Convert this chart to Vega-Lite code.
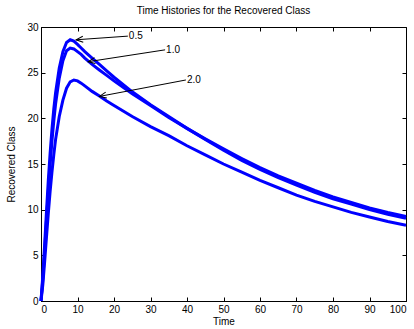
{
  "$schema": "https://vega.github.io/schema/vega-lite/v6.json",
  "autosize": "none",
  "width": 365,
  "height": 274,
  "padding": {"left": 41, "top": 27, "right": 8, "bottom": 28},
  "background": "white",
  "config": {
    "font": "Liberation Sans",
    "view": {"stroke": "black", "strokeWidth": 1},
    "axis": {"grid": false, "domainColor": "black", "tickColor": "black", "labelColor": "black", "titleColor": "black", "labelFontSize": 10, "titleFontSize": 10, "titleFontWeight": "normal", "tickSize": -4, "labelPadding": 7}
  },
  "title": {"text": "Time Histories for the Recovered Class", "fontSize": 10, "fontWeight": "normal", "color": "black", "offset": 6},
  "datasets": {
    "curves": [
      {"param": "0.5", "t": 0, "r": 0}, {"param": "0.5", "t": 0.5, "r": 2.8}, {"param": "0.5", "t": 1, "r": 6.2}, {"param": "0.5", "t": 1.5, "r": 9.8}, {"param": "0.5", "t": 2, "r": 13.2}, {"param": "0.5", "t": 2.5, "r": 16.2}, {"param": "0.5", "t": 3, "r": 18.8}, {"param": "0.5", "t": 3.5, "r": 21}, {"param": "0.5", "t": 4, "r": 22.8}, {"param": "0.5", "t": 5, "r": 25.5}, {"param": "0.5", "t": 6, "r": 27.3}, {"param": "0.5", "t": 7, "r": 28.3}, {"param": "0.5", "t": 8, "r": 28.6}, {"param": "0.5", "t": 9, "r": 28.45}, {"param": "0.5", "t": 10, "r": 28.1}, {"param": "0.5", "t": 11, "r": 27.7}, {"param": "0.5", "t": 12, "r": 27.3}, {"param": "0.5", "t": 14, "r": 26.6}, {"param": "0.5", "t": 16, "r": 25.9}, {"param": "0.5", "t": 18, "r": 25.2}, {"param": "0.5", "t": 20, "r": 24.5}, {"param": "0.5", "t": 25, "r": 22.9}, {"param": "0.5", "t": 30, "r": 21.5}, {"param": "0.5", "t": 35, "r": 20.2}, {"param": "0.5", "t": 40, "r": 18.9}, {"param": "0.5", "t": 45, "r": 17.7}, {"param": "0.5", "t": 50, "r": 16.5}, {"param": "0.5", "t": 55, "r": 15.4}, {"param": "0.5", "t": 60, "r": 14.4}, {"param": "0.5", "t": 65, "r": 13.5}, {"param": "0.5", "t": 70, "r": 12.7}, {"param": "0.5", "t": 75, "r": 11.9}, {"param": "0.5", "t": 80, "r": 11.2}, {"param": "0.5", "t": 85, "r": 10.6}, {"param": "0.5", "t": 90, "r": 10.0}, {"param": "0.5", "t": 95, "r": 9.5}, {"param": "0.5", "t": 100, "r": 9.05},
      {"param": "1.0", "t": 0, "r": 0}, {"param": "1.0", "t": 0.5, "r": 2.4}, {"param": "1.0", "t": 1, "r": 5.5}, {"param": "1.0", "t": 1.5, "r": 8.8}, {"param": "1.0", "t": 2, "r": 12}, {"param": "1.0", "t": 2.5, "r": 14.9}, {"param": "1.0", "t": 3, "r": 17.5}, {"param": "1.0", "t": 3.5, "r": 19.7}, {"param": "1.0", "t": 4, "r": 21.6}, {"param": "1.0", "t": 5, "r": 24.4}, {"param": "1.0", "t": 6, "r": 26.3}, {"param": "1.0", "t": 7, "r": 27.4}, {"param": "1.0", "t": 8, "r": 27.7}, {"param": "1.0", "t": 9, "r": 27.6}, {"param": "1.0", "t": 10, "r": 27.3}, {"param": "1.0", "t": 11, "r": 27.0}, {"param": "1.0", "t": 12, "r": 26.6}, {"param": "1.0", "t": 14, "r": 25.9}, {"param": "1.0", "t": 16, "r": 25.3}, {"param": "1.0", "t": 18, "r": 24.7}, {"param": "1.0", "t": 20, "r": 24.1}, {"param": "1.0", "t": 25, "r": 22.7}, {"param": "1.0", "t": 30, "r": 21.4}, {"param": "1.0", "t": 35, "r": 20.1}, {"param": "1.0", "t": 40, "r": 18.9}, {"param": "1.0", "t": 45, "r": 17.75}, {"param": "1.0", "t": 50, "r": 16.65}, {"param": "1.0", "t": 55, "r": 15.6}, {"param": "1.0", "t": 60, "r": 14.6}, {"param": "1.0", "t": 65, "r": 13.7}, {"param": "1.0", "t": 70, "r": 12.9}, {"param": "1.0", "t": 75, "r": 12.1}, {"param": "1.0", "t": 80, "r": 11.4}, {"param": "1.0", "t": 85, "r": 10.8}, {"param": "1.0", "t": 90, "r": 10.2}, {"param": "1.0", "t": 95, "r": 9.7}, {"param": "1.0", "t": 100, "r": 9.25},
      {"param": "2.0", "t": 0, "r": 0}, {"param": "2.0", "t": 0.5, "r": 1.8}, {"param": "2.0", "t": 1, "r": 4.3}, {"param": "2.0", "t": 1.5, "r": 7}, {"param": "2.0", "t": 2, "r": 9.6}, {"param": "2.0", "t": 2.5, "r": 12}, {"param": "2.0", "t": 3, "r": 14.1}, {"param": "2.0", "t": 3.5, "r": 16}, {"param": "2.0", "t": 4, "r": 17.7}, {"param": "2.0", "t": 5, "r": 20.2}, {"param": "2.0", "t": 6, "r": 22.0}, {"param": "2.0", "t": 7, "r": 23.3}, {"param": "2.0", "t": 8, "r": 24.0}, {"param": "2.0", "t": 9, "r": 24.2}, {"param": "2.0", "t": 10, "r": 24.1}, {"param": "2.0", "t": 11, "r": 23.85}, {"param": "2.0", "t": 12, "r": 23.55}, {"param": "2.0", "t": 14, "r": 22.95}, {"param": "2.0", "t": 16, "r": 22.45}, {"param": "2.0", "t": 18, "r": 21.9}, {"param": "2.0", "t": 20, "r": 21.4}, {"param": "2.0", "t": 25, "r": 20.2}, {"param": "2.0", "t": 30, "r": 19.1}, {"param": "2.0", "t": 35, "r": 18.1}, {"param": "2.0", "t": 40, "r": 17.0}, {"param": "2.0", "t": 45, "r": 16.0}, {"param": "2.0", "t": 50, "r": 15.0}, {"param": "2.0", "t": 55, "r": 14.1}, {"param": "2.0", "t": 60, "r": 13.2}, {"param": "2.0", "t": 65, "r": 12.4}, {"param": "2.0", "t": 70, "r": 11.6}, {"param": "2.0", "t": 75, "r": 10.9}, {"param": "2.0", "t": 80, "r": 10.3}, {"param": "2.0", "t": 85, "r": 9.7}, {"param": "2.0", "t": 90, "r": 9.2}, {"param": "2.0", "t": 95, "r": 8.7}, {"param": "2.0", "t": 100, "r": 8.3}
    ],
    "arrows": [
      {"label": "0.5", "tx": 23.8, "ty": 29.0, "hx": 9.6, "hy": 28.6},
      {"label": "1.0", "tx": 34.0, "ty": 27.5, "hx": 12.9, "hy": 26.2},
      {"label": "2.0", "tx": 39.7, "ty": 24.2, "hx": 16.0, "hy": 22.4}
    ]
  },
  "layer": [
    {
      "data": {"name": "curves"},
      "mark": {"type": "line", "color": "#0000ff", "strokeWidth": 3},
      "encoding": {
        "x": {"field": "t", "type": "quantitative", "scale": {"domain": [0, 100], "nice": false}, "axis": {"title": "Time", "values": [0,10,20,30,40,50,60,70,80,90,100], "titlePadding": 2}},
        "y": {"field": "r", "type": "quantitative", "scale": {"domain": [0, 30], "nice": false}, "axis": {"title": "Recovered Class", "values": [0,5,10,15,20,25,30], "titlePadding": 10}},
        "detail": {"field": "param"}
      }
    },
    {
      "data": {"name": "arrows"},
      "mark": {"type": "rule", "color": "black", "strokeWidth": 1},
      "encoding": {
        "x": {"field": "tx", "type": "quantitative", "axis": {"orient": "top", "labels": false, "title": null, "domain": false, "values": [0,10,20,30,40,50,60,70,80,90,100]}},
        "y": {"field": "ty", "type": "quantitative", "axis": {"orient": "right", "labels": false, "title": null, "domain": false, "values": [0,5,10,15,20,25,30]}},
        "x2": {"field": "hx"},
        "y2": {"field": "hy"}
      }
    },
    {
      "data": {"name": "arrows"},
      "transform": [{"filter": "datum.label == '0.5'"}],
      "mark": {"type": "point", "shape": "M -1.4 -0.6 L 0 0 L -1.4 0.6", "filled": false, "stroke": "black", "strokeWidth": 1, "size": 100, "angle": 175.6, "opacity": 1},
      "encoding": {"x": {"field": "hx", "type": "quantitative", "axis": null}, "y": {"field": "hy", "type": "quantitative", "axis": null}}
    },
    {
      "data": {"name": "arrows"},
      "transform": [{"filter": "datum.label == '1.0'"}],
      "mark": {"type": "point", "shape": "M -1.4 -0.6 L 0 0 L -1.4 0.6", "filled": false, "stroke": "black", "strokeWidth": 1, "size": 100, "angle": 171.1, "opacity": 1},
      "encoding": {"x": {"field": "hx", "type": "quantitative", "axis": null}, "y": {"field": "hy", "type": "quantitative", "axis": null}}
    },
    {
      "data": {"name": "arrows"},
      "transform": [{"filter": "datum.label == '2.0'"}],
      "mark": {"type": "point", "shape": "M -1.4 -0.6 L 0 0 L -1.4 0.6", "filled": false, "stroke": "black", "strokeWidth": 1, "size": 100, "angle": 168.9, "opacity": 1},
      "encoding": {"x": {"field": "hx", "type": "quantitative", "axis": null}, "y": {"field": "hy", "type": "quantitative", "axis": null}}
    },
    {
      "data": {"name": "arrows"},
      "mark": {"type": "text", "align": "left", "baseline": "middle", "fontSize": 10, "color": "black", "dx": 1},
      "encoding": {"x": {"field": "tx", "type": "quantitative", "axis": null}, "y": {"field": "ty", "type": "quantitative", "axis": null}, "text": {"field": "label"}}
    }
  ],
  "resolve": {"axis": {"x": "independent", "y": "independent"}}
}
